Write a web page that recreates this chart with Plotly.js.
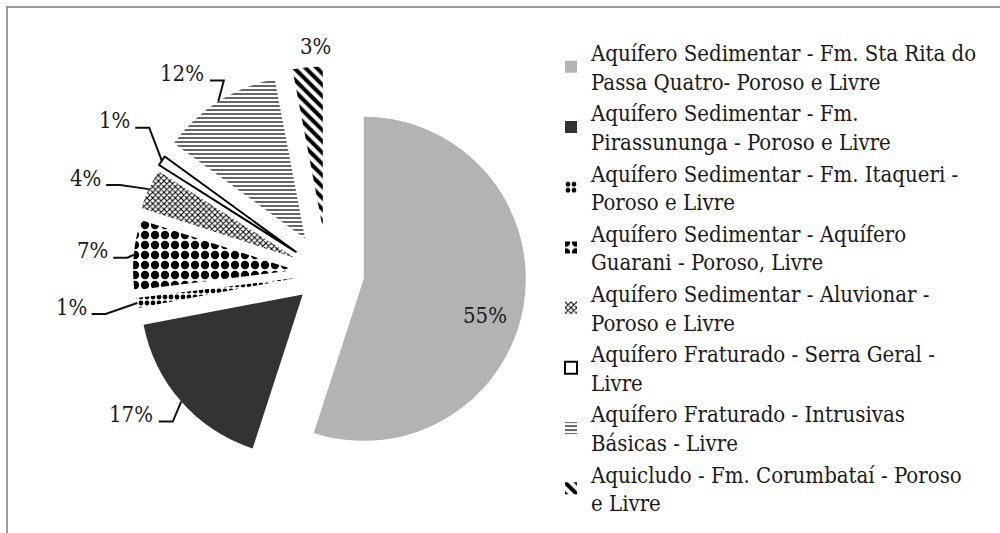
<!DOCTYPE html>
<html>
<head>
<meta charset="utf-8">
<script src="https://cdn.plot.ly/plotly-3.0.1.min.js"></script>
<style>
  html, body { margin: 0; padding: 0; background: #ffffff; }
  #chart { width: 1000px; height: 533px; }
  #frame { position: absolute; left: 6px; top: 6px; width: 1000px; height: 540px;
           border-top: 2px solid #9a9a9a; border-left: 2px solid #9a9a9a; pointer-events: none; }
</style>
</head>
<body>
<div id="chart"></div>
<div id="frame"></div>
<script>
// ---------------- data ----------------
const categories = [
  "Aquífero Sedimentar - Fm. Sta Rita do<br>Passa Quatro- Poroso e Livre",
  "Aquífero Sedimentar - Fm.<br>Pirassununga - Poroso e Livre",
  "Aquífero Sedimentar - Fm. Itaqueri -<br>Poroso e Livre",
  "Aquífero Sedimentar - Aquífero<br>Guarani - Poroso, Livre",
  "Aquífero Sedimentar - Aluvionar -<br>Poroso e Livre",
  "Aquífero Fraturado - Serra Geral -<br>Livre",
  "Aquífero Fraturado - Intrusivas<br>Básicas - Livre",
  "Aquicludo - Fm. Corumbataí - Poroso<br>e Livre"
];
const shares = [55, 17, 1, 7, 4, 1, 12, 3];

// ---------------- styles ----------------
const pulls = [0.23, 0.20, 0.186, 0.198, 0.216, 0.233, 0.253, 0.276];
const bgColors = ["#b3b3b3", "#333333", "#ffffff", "#ffffff", "#ffffff", "#ffffff", "#ffffff", "#ffffff"];
const patShapes = ["", "", ".", ".", "x", "", "-", "\\"];
const patSizes = [8, 8, 6, 10, 4, 8, 4, 8];
const patSolidity = [0.3, 0.3, 0.5, 0.55, 0.45, 0.3, 0.3, 0.5];
const lineWidths = [0, 0, 0, 0, 0, 2, 0, 0];
// label offset from the outer-arc midpoint of each slice (px), and whether a leader line is drawn
const labelOffsets = [[-39, 11], [-50, 13], [-66, 4], [-41, -4], [-63, -11], [-47, -40], [-36, -28], [8, -21]];
const showLeader = [false, true, true, true, true, true, true, false];

const FONT = "DejaVu Serif Condensed, DejaVu Serif, serif";
const W = 1000, H = 533;

// pie geometry (px)
const CX = 327, CY = 273, R = 162;
const maxPull = Math.max(...pulls);
const half = R * (1 + maxPull);
const domX = [(CX - half) / W, (CX + half) / W];
const domY = [1 - (CY + half) / H, 1 - (CY - half) / H];

const trace = {
  type: "pie",
  labels: categories,
  values: shares,
  sort: false,
  direction: "clockwise",
  rotation: 0,
  pull: pulls,
  textinfo: "none",
  marker: {
    colors: bgColors,
    line: { color: "#000", width: lineWidths },
    pattern: {
      shape: patShapes,
      fgcolor: "#000",
      fgopacity: 1,
      bgcolor: bgColors,
      size: patSizes,
      solidity: patSolidity,
      fillmode: "overlay"
    }
  },
  domain: { x: domX, y: domY },
  hoverinfo: "label+percent"
};

// labels + leader lines derived from the slice angles
const total = shares.reduce((a, b) => a + b, 0);
const annotations = [];
const shapes = [];
const px2x = x => x / W, px2y = y => 1 - y / H;
let cum = 0;
shares.forEach((v, i) => {
  const mid = (cum + v / 2) / total * 2 * Math.PI; // clockwise from 12 o'clock
  cum += v;
  const dx = Math.sin(mid), dy = -Math.cos(mid);
  const ax = CX + pulls[i] * R * dx, ay = CY + pulls[i] * R * dy;
  const Px = ax + R * dx, Py = ay + R * dy;
  const Lx = Px + labelOffsets[i][0], Ly = Py + labelOffsets[i][1];
  const txt = Math.round(v / total * 100) + "%";
  annotations.push({
    x: px2x(Lx), y: px2y(Ly), xref: "paper", yref: "paper",
    xanchor: "center", yanchor: "middle", showarrow: false,
    text: txt, font: { family: FONT, size: 22, color: "#1a1a1a" }
  });
  if (showLeader[i]) {
    const sx = Lx + 7.2 * txt.length + 6, sy = Ly + 7;
    const ex = sx + 14;
    shapes.push({
      type: "path", xref: "paper", yref: "paper",
      path: `M${px2x(sx)},${px2y(sy)} L${px2x(ex)},${px2y(sy)} L${px2x(Px)},${px2y(Py)}`,
      line: { color: "#111", width: 2 }
    });
  }
});

const layout = {
  width: W, height: H,
  margin: { l: 0, r: 0, t: 0, b: 0 },
  paper_bgcolor: "#ffffff",
  font: { family: FONT, size: 22, color: "#1a1a1a" },
  showlegend: true,
  legend: {
    x: 0.551, y: 0.9404, xanchor: "left", yanchor: "top",
    font: { family: FONT, size: 22, color: "#1a1a1a" },
    itemwidth: 30, tracegroupgap: 0
  },
  annotations: annotations,
  shapes: shapes
};

Plotly.newPlot("chart", [trace], layout, { displayModeBar: false, staticPlot: true });
</script>
</body>
</html>
